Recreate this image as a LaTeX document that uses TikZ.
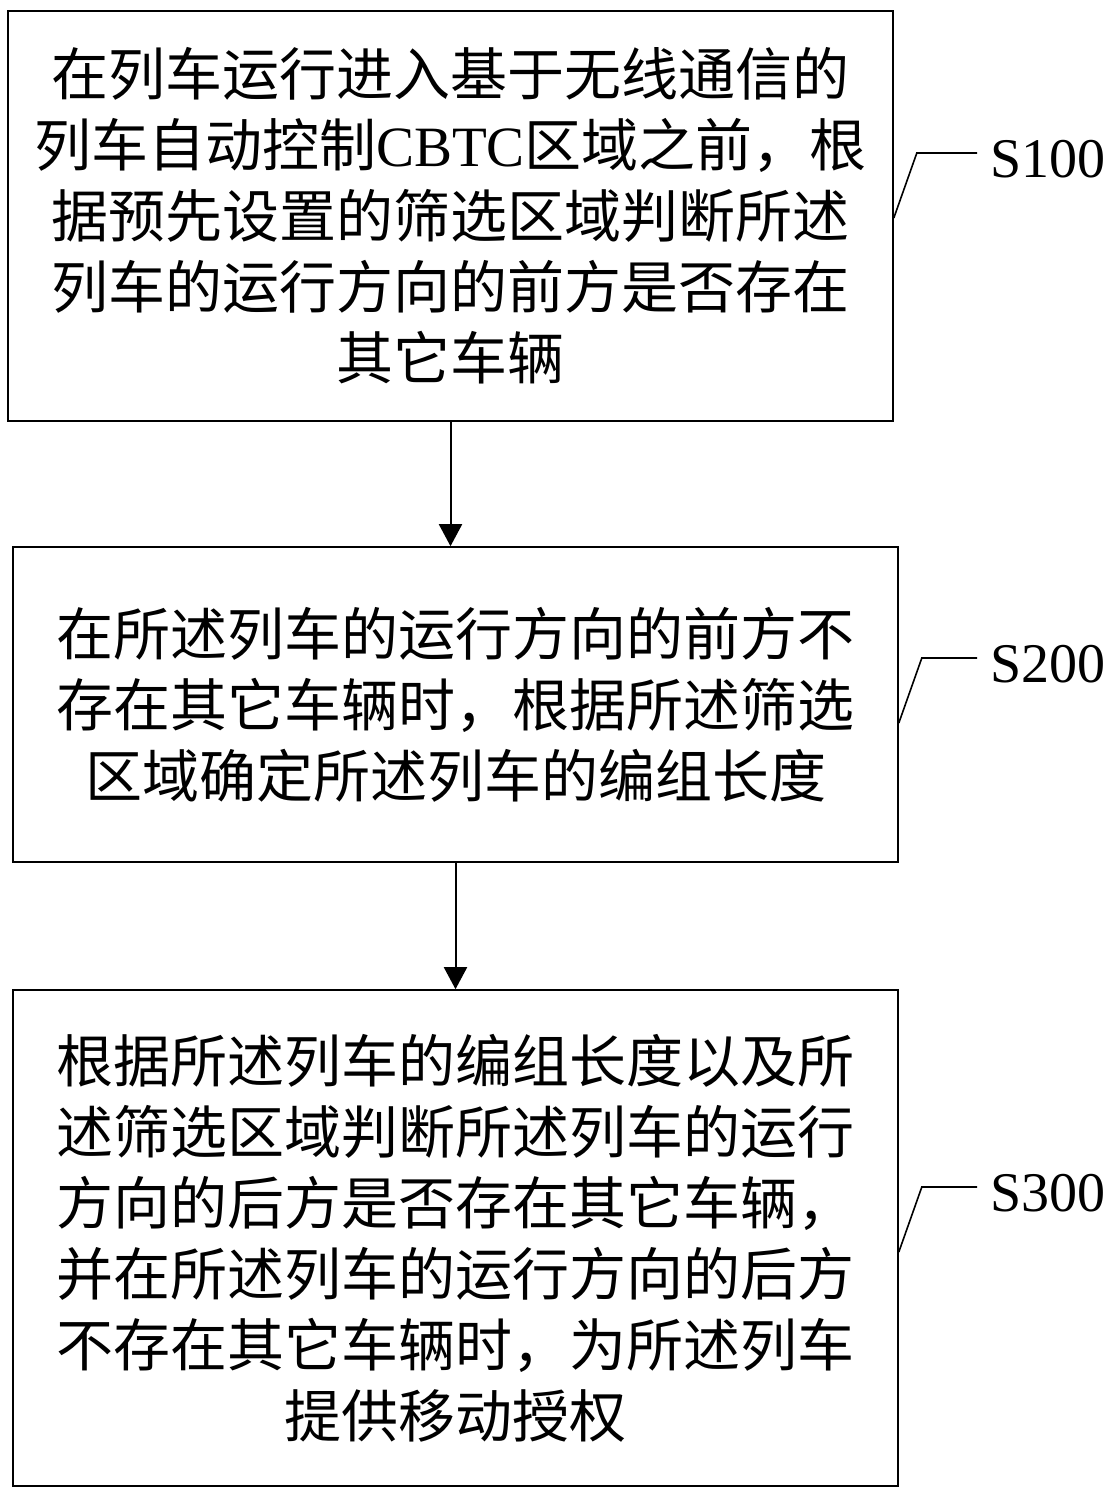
\documentclass[tikz,border=0pt]{standalone}
\usepackage{fontspec}
\setmainfont{Liberation Serif}
\newfontfamily\cjk{Noto Sans CJK SC}
\usetikzlibrary{arrows.meta}

\tikzstyle{stepbox} = [draw,line width=1.6pt,inner sep=0pt,align=center,font=\cjk\fontsize{57}{71}\selectfont]
\tikzstyle{steplabel} = [anchor=west,inner xsep=13pt,inner ysep=0pt,font=\fontsize{56}{60}\selectfont]
\tikzstyle{flow} = [draw,line width=2pt,-{Triangle[width=23pt,length=22pt]}]
\tikzstyle{leader} = [draw,line width=1.6pt]

\begin{document}
\begin{tikzpicture}[x=1pt,y=-1pt]
      \useasboundingbox (0,0) rectangle (1117,1493);
      % nodes
      \node[stepbox, minimum width=885pt, minimum height=410pt] (s100) at (450.5,216)
        {在列车运行进入基于无线通信的\\列车自动控制{\rmfamily CBTC}区域之前，根\\据预先设置的筛选区域判断所述\\列车的运行方向的前方是否存在\\其它车辆};
      \node[stepbox, minimum width=885pt, minimum height=315pt] (s200) at (455.5,704.5)
        {在所述列车的运行方向的前方不\\存在其它车辆时，根据所述筛选\\区域确定所述列车的编组长度};
      \node[stepbox, minimum width=885pt, minimum height=496pt] (s300) at (455.5,1238)
        {根据所述列车的编组长度以及所\\述筛选区域判断所述列车的运行\\方向的后方是否存在其它车辆，\\并在所述列车的运行方向的后方\\不存在其它车辆时，为所述列车\\提供移动授权};
      % labels
      \foreach \boxname/\dy/\y/\labelname in {
        s100/-2/159/S100,
        s200/-18.5/664/S200,
        s300/-14/1193/S300}
      {
        \node[steplabel] (lab\boxname) at (977,\y) {\labelname};
        \draw[leader] ([yshift=\dy pt]\boxname.east) -- ++(23,-65) -- ([yshift=6pt]lab\boxname.west);
      };
      %edges
      \path[flow] (s100.south) -- (s100.south |- s200.north);
      \path[flow] (s200.south) -- (s200.south |- s300.north);
\end{tikzpicture}
\end{document}
